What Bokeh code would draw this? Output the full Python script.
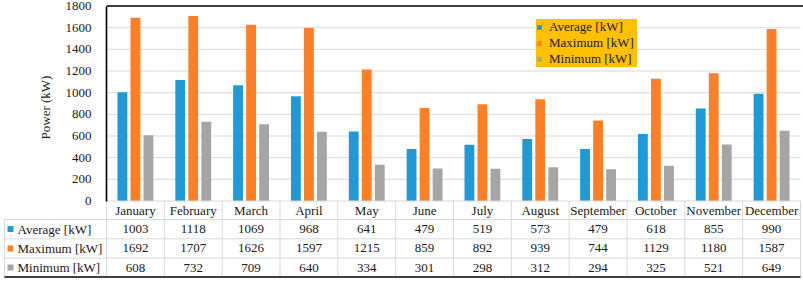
import numpy as np
from bokeh.plotting import figure
from bokeh.models import (Range1d, FixedTicker, Legend, LegendItem, ColumnDataSource)
from bokeh.core.properties import value
from bokeh.embed import file_html
from bokeh.resources import INLINE

# ---------------- data ----------------
months = ["January", "February", "March", "April", "May", "June", "July",
          "August", "September", "October", "November", "December"]
average = [1003, 1118, 1069, 968, 641, 479, 519, 573, 479, 618, 855, 990]
maximum = [1692, 1707, 1626, 1597, 1215, 859, 892, 939, 744, 1129, 1180, 1587]
minimum = [608, 732, 709, 640, 334, 301, 298, 312, 294, 325, 521, 649]
series_names = ["Average [kW]", "Maximum [kW]", "Minimum [kW]"]
y_ticks = [0, 200, 400, 600, 800, 1000, 1200, 1400, 1600, 1800]
y_title = "Power (kW)"

# ---------------- styling / geometry ----------------
W, H = 803, 281
FL = 106                      # left edge of plot area (px)
CW = (800 - FL) / 12.0        # column width (px)
TOP_PX, ZERO_PX = 5.5, 200.5  # px of 1800 and 0
K = 1800.0 / (ZERO_PX - TOP_PX)
COLORS = ["#1f9ad6", "#ff7f27", "#a5a5a5"]
FONT = "Liberation Serif"
FS = "13px"
TXT = "#1a1a1a"
GRID = "#d9d9d9"


def X(px):
    return (px - FL) / CW


def Y(py):
    return 1800.0 - (py - TOP_PX) * K


p = figure(width=W, height=H, output_backend="svg", toolbar_location=None,
           x_range=Range1d(X(0), X(W)), y_range=Range1d(Y(H), Y(0)),
           min_border_left=0, min_border_right=0, min_border_top=0, min_border_bottom=0,
           x_axis_location=None, y_axis_location="left")
p.outline_line_color = None
p.background_fill_color = "white"
p.border_fill_color = "white"
p.xgrid.visible = False
p.ygrid.visible = False

# y axis, fixed at the left edge of the plot area (x = 0)
ax = p.yaxis[0]
ax.fixed_location = 0
ax.ticker = FixedTicker(ticks=y_ticks)
ax.bounds = (0, 1800)
ax.axis_line_color = "black"
ax.axis_line_width = 1.6
ax.major_tick_line_color = None
ax.minor_tick_line_color = None
ax.major_label_text_font = FONT
ax.major_label_text_font_size = FS
ax.major_label_text_color = TXT
ax.major_label_standoff = 9

# gridlines
gy = y_ticks[1:-1]
p.segment(x0=[0] * len(gy), x1=[12] * len(gy), y0=gy, y1=gy, line_color=GRID, line_width=1)

# bars
idx = np.arange(len(months))
centers = idx + 0.5
offsets = [-0.225, 0.0, 0.225]
renderers = []
for vals, off, col in zip([average, maximum, minimum], offsets, COLORS):
    src = ColumnDataSource(dict(x=centers + off, top=vals))
    r = p.vbar(x="x", top="top", bottom=0, width=0.17, source=src,
               fill_color=col, line_color=None)
    renderers.append(r)

# top border line
p.segment(x0=[0], x1=[X(W)], y0=[1800], y1=[1800], line_color="black", line_width=1.6)

# y axis title
p.text(x=[X(45)], y=[Y(107)], text=[y_title], angle=np.pi / 2,
       text_font=value(FONT), text_font_size=FS, text_color=TXT,
       text_align="center", text_baseline="middle")

# ---------------- data table ----------------
row_lines_px = [219.0, 238.3, 257.6]
row_centers_px = [228.6, 247.9, 267.0]
header_center_px = 210.0
bottom_px = 276.5

# zero line / header top
p.segment(x0=[0], x1=[12], y0=[0], y1=[0], line_color=GRID, line_width=1)
# row lines
ry = [Y(v) for v in row_lines_px]
p.segment(x0=[X(4)] * 3, x1=[12] * 3, y0=ry, y1=ry, line_color=GRID, line_width=1)
# vertical lines
vx = list(range(0, 13))
p.segment(x0=vx, x1=vx, y0=[0] * len(vx), y1=[Y(bottom_px)] * len(vx),
          line_color=GRID, line_width=1)
p.segment(x0=[X(4)], x1=[X(4)], y0=[Y(219)], y1=[Y(bottom_px)], line_color=GRID, line_width=1)
# bottom black line
p.segment(x0=[X(4)], x1=[12], y0=[Y(bottom_px)], y1=[Y(bottom_px)],
          line_color="black", line_width=1.6)

# header row: months
p.text(x=centers, y=[Y(header_center_px)] * 12, text=months,
       text_font=value(FONT), text_font_size=FS, text_color=TXT,
       text_align="center", text_baseline="middle")

# value rows
for vals, cy in zip([average, maximum, minimum], row_centers_px):
    p.text(x=centers, y=[Y(cy)] * 12, text=[str(v) for v in vals],
           text_font=value(FONT), text_font_size=FS, text_color=TXT,
           text_align="center", text_baseline="middle")

# row headers with swatches
ryc = [Y(c) for c in row_centers_px]
p.scatter(x=[X(10)] * 3, y=ryc, marker="square", size=6, fill_color=COLORS, line_color=None)
p.text(x=[X(17)] * 3, y=ryc, text=series_names,
       text_font=value(FONT), text_font_size=FS, text_color=TXT,
       text_align="left", text_baseline="middle")

# legend
legend = Legend(items=[LegendItem(label=n, renderers=[r]) for n, r in zip(series_names, renderers)],
                location=(536, 214), orientation="vertical",
                background_fill_color="#ffc000", background_fill_alpha=1,
                border_line_color=None, padding=3, spacing=0, margin=0,
                label_height=12, label_width=88, glyph_height=6, glyph_width=6,
                label_standoff=7,
                label_text_font=FONT, label_text_font_size=FS, label_text_color="#1a1a1a")
p.add_layout(legend)

open("out.html", "w").write(file_html(p, INLINE))
